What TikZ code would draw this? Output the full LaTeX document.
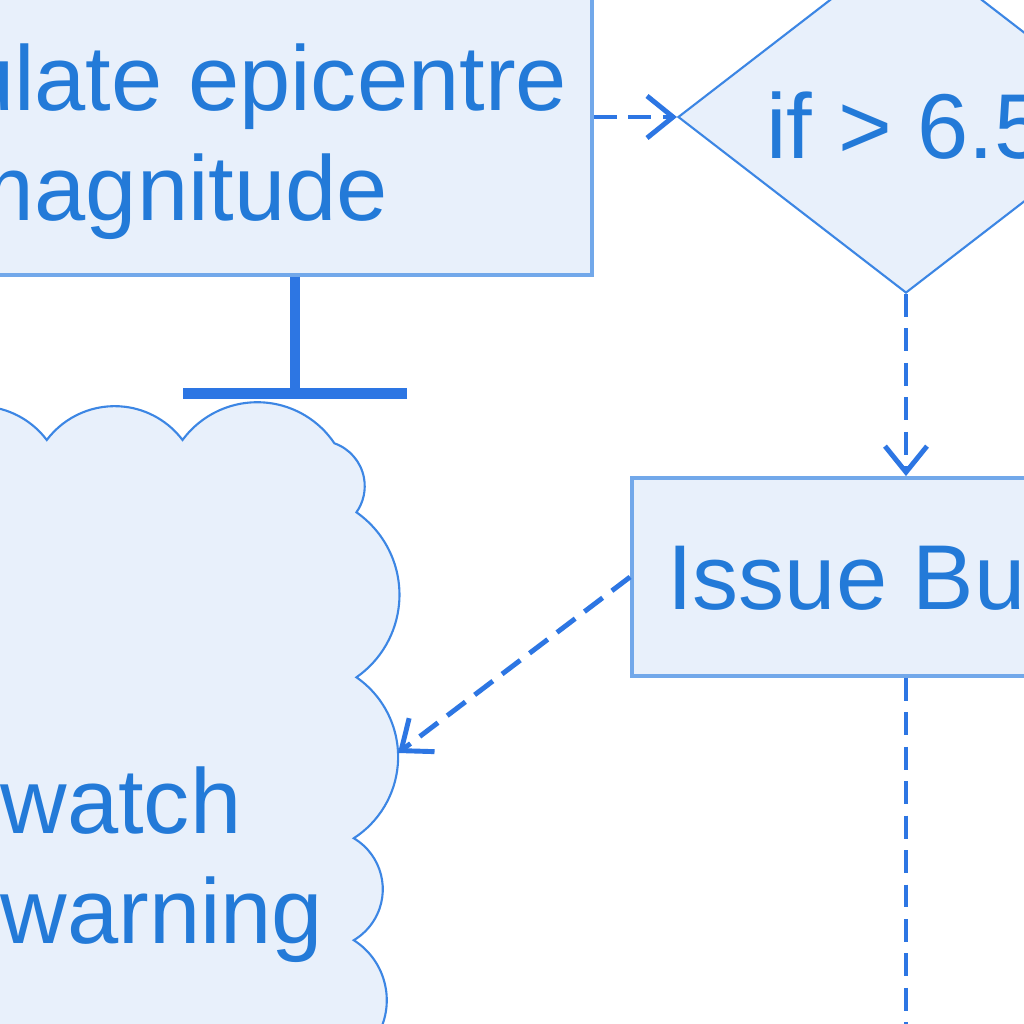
\documentclass[tikz,border=0pt]{standalone}
\usepackage{fontspec}
\setmainfont{Liberation Sans}
\usepackage{tikz}
\usetikzlibrary{shapes.geometric,arrows.meta,positioning,calc}
\definecolor{flowfill}{HTML}{E8F0FB}
\definecolor{flowedge}{HTML}{72A8EA}
\definecolor{flowline}{HTML}{2D76E3}
\definecolor{flowtext}{HTML}{237AD8}
\definecolor{shapeline}{HTML}{3C86E4}
\newcommand{\flowfont}{\fontsize{26.2pt}{31.3pt}\selectfont}

\begin{document}
\begin{tikzpicture}[
        procbox/.style={rectangle, draw=flowedge, fill=flowfill, line width=1.1pt, inner sep=0pt},
        decision/.style={diamond, shape aspect=1.3, draw=shapeline, fill=flowfill, line width=0.6pt, inner sep=0pt},
        boxtext/.style={text=flowtext, font=\flowfont, inner sep=0pt},
        cloudline/.style={draw=shapeline, fill=flowfill, line width=0.6pt},
        flow/.style={draw=flowline, line width=1.4pt, dash pattern=on 6.5pt off 3.3pt,
            -{Straight Barb[length=0.26cm,width=0.42cm]}},
        tee/.style={draw=flowline, line width=3.1pt, -{Bar[width=2.24cm]}}
    ]
        \useasboundingbox (0,0) rectangle (10.24,10.24);
        \fill[white] (0,0) rectangle (10.24,10.24);
        \clip (0,0) rectangle (10.24,10.24);

        % Processing boxes
        \node[procbox, minimum width=8.62cm, minimum height=3.16cm] (calc) at (1.61,9.07) {};
        \node[boxtext, align=center] (calctext) at (1.73,8.824) {Calculate epicentre\\magnitude};
        \node[decision, boxtext, minimum width=4.56cm, minimum height=3.52cm, text height=0.83cm] (check) at (9.06,9.07) {if > 6.5};
        \node[procbox, boxtext, minimum width=6.18cm, minimum height=1.98cm] (issue) at (9.41,4.47) {Issue Bulletin};

        % Alert cloud
        \draw[cloudline] (-0.89,5.84)
            arc[start angle=143, end angle=37, radius=0.85]
            arc[start angle=143, end angle=37, radius=0.85]
            arc[start angle=143.6, end angle=33.9, radius=0.929]
            arc[start angle=70.6, end angle=-35.2, radius=0.454]
            arc[start angle=55.1, end angle=-55.1, radius=1.006]
            arc[start angle=55.3, end angle=-57.2, radius=0.968]
            arc[start angle=59.3, end angle=-59.3, radius=0.593]
            arc[start angle=57.65, end angle=-57.65, radius=0.71]
            -- (-1.5,-0.36) -- cycle;
        \node[boxtext, align=left, anchor=west] (alerttext) at (0.0,1.594) {watch\\warning};
        \coordinate (cloudtop) at (2.95,6.25);
        \coordinate (cloudin) at (3.98,2.71);
        \coordinate (next) at (9.06,-0.8);

        % Connectors
        \draw[flow] (calc.east |- check.west) -- (check.west);
        \draw[flow] (check.south) -- (check.south |- issue.north);
        \draw[flow] (issue.west) -- (cloudin);
        \draw[flow] (check.south |- issue.south) -- (next);
        \draw[tee] (calc.south -| cloudtop) -- (cloudtop);

    \end{tikzpicture}
\end{document}
